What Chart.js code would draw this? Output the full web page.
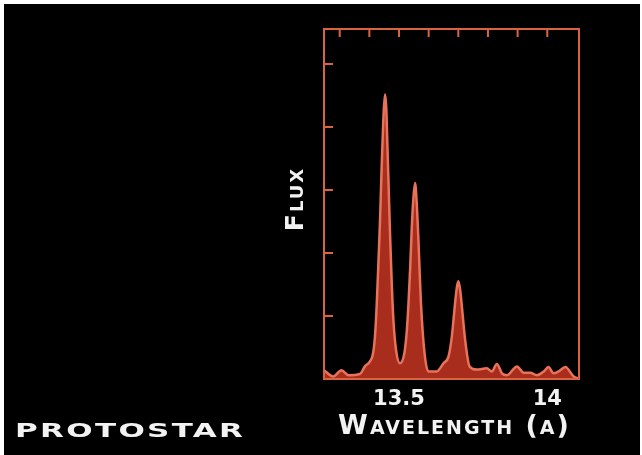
<!DOCTYPE html>
<html lang="en">
<head>
<meta charset="UTF-8">
<title>Protostar spectrum</title>
<script src="https://cdn.jsdelivr.net/npm/chart.js"></script>
<style>
  body { margin: 0; background: #fff; }
  #wrap { position: absolute; left: 4px; top: 4px; width: 636px; height: 451px; background: #000; }
</style>
</head>
<body>
<div id="wrap"><canvas id="spectrum" width="636" height="451"></canvas></div>
<script>
  // spectrum: wavelength in angstrom, flux in tick units
  var wavelength = [13.247, 13.278, 13.306, 13.329, 13.368, 13.385, 13.402, 13.413, 13.420, 13.425,
    13.431, 13.436, 13.441, 13.445, 13.449, 13.453, 13.457, 13.460, 13.465, 13.470,
    13.476, 13.481, 13.490, 13.503, 13.518, 13.526, 13.532, 13.538, 13.543, 13.549,
    13.554, 13.559, 13.565, 13.570, 13.574, 13.586, 13.599, 13.627, 13.650, 13.667,
    13.678, 13.684, 13.689, 13.695, 13.700, 13.706, 13.712, 13.723, 13.738, 13.762,
    13.796, 13.813, 13.830, 13.847, 13.864, 13.898, 13.920, 13.943, 13.965, 13.988,
    14.004, 14.021, 14.038, 14.061, 14.089, 14.107];
  var flux = [0.14, 0.04, 0.14, 0.06, 0.08, 0.20, 0.28, 0.42, 0.75, 1.20,
    1.90, 2.52, 3.30, 3.85, 4.30, 4.52, 4.30, 3.85, 3.05, 2.26,
    1.45, 0.94, 0.46, 0.25, 0.41, 0.75, 1.20, 1.80, 2.40, 2.90,
    3.11, 2.85, 2.26, 1.65, 1.20, 0.41, 0.12, 0.12, 0.25, 0.36,
    0.67, 0.95, 1.20, 1.45, 1.55, 1.42, 1.15, 0.62, 0.20, 0.15,
    0.17, 0.12, 0.24, 0.09, 0.06, 0.20, 0.10, 0.10, 0.06, 0.12,
    0.19, 0.09, 0.12, 0.19, 0.04, 0.0];
  var xLabels = [13.5, 14];
  var topTicks = [13.3, 13.4, 13.5, 13.6, 13.7, 13.8, 13.9, 14.0];
  var yTicks = [1, 2, 3, 4, 5];

  var boxColor = "#d9643f";
  var textColor = "#f2f2f2";
  var font = "'DejaVu Sans'";

  var points = wavelength.map((w, i) => ({ x: w, y: flux[i] }));

  // draws text where some letters are bigger (fake small caps)
  function partsWidth(ctx, parts) {
    var w = 0;
    parts.forEach(p => {
      ctx.font = "bold " + p[1] + "px " + font;
      w += ctx.measureText(p[0]).width;
    });
    return w;
  }
  function drawParts(ctx, parts, x, y) {
    parts.forEach(p => {
      ctx.font = "bold " + p[1] + "px " + font;
      ctx.fillText(p[0], x, y);
      x += ctx.measureText(p[0]).width;
    });
  }

  var frame = {
    id: "frame",
    afterDatasetsDraw(chart) {
      var ctx = chart.ctx, a = chart.chartArea;
      var sx = chart.scales.x, sy = chart.scales.y;
      ctx.save();
      ctx.strokeStyle = boxColor;
      ctx.lineWidth = 2;
      ctx.strokeRect(a.left, a.top, a.right - a.left, a.bottom - a.top);
      ctx.beginPath();
      topTicks.forEach(v => {
        var px = sx.getPixelForValue(v);
        ctx.moveTo(px, a.top);
        ctx.lineTo(px, a.top + 8);
      });
      yTicks.forEach(v => {
        var py = sy.getPixelForValue(v);
        ctx.moveTo(a.left, py);
        ctx.lineTo(a.left + 9, py);
      });
      ctx.stroke();

      ctx.fillStyle = textColor;
      ctx.textBaseline = "alphabetic";
      ctx.letterSpacing = "2px";

      var xt = [["W", 27], ["AVELENGTH", 19], [" (", 27], ["A", 19], [")", 27]];
      var cx = (a.left + a.right) / 2 + 3;
      drawParts(ctx, xt, cx - partsWidth(ctx, xt) / 2, a.bottom + 55);

      var yt = [["F", 25], ["LUX", 18]];
      ctx.save();
      ctx.translate(a.left - 21, (a.top + a.bottom) / 2 - 5);
      ctx.rotate(-Math.PI / 2);
      drawParts(ctx, yt, -partsWidth(ctx, yt) / 2, 0);
      ctx.restore();

      ctx.save();
      ctx.letterSpacing = "1.5px";
      ctx.translate(11, 433);
      ctx.scale(1.55, 1);
      ctx.font = "bold 20px " + font;
      ctx.fillText("PROTOSTAR", 0, 0);
      ctx.restore();

      ctx.restore();
    }
  };

  new Chart("spectrum", {
    type: "line",
    data: {
      datasets: [{
        data: points,
        borderColor: "#e8735a",
        backgroundColor: "#a82d1c",
        borderWidth: 2.5,
        fill: "origin",
        pointRadius: 0,
        cubicInterpolationMode: "monotone"
      }]
    },
    options: {
      responsive: false,
      animation: false,
      layout: { padding: { top: 25, right: 61, left: 0, bottom: 0 } },
      plugins: { legend: { display: false }, tooltip: { enabled: false } },
      scales: {
        x: {
          type: "linear",
          min: 13.247,
          max: 14.107,
          grid: { display: false, drawTicks: false },
          border: { display: false },
          afterBuildTicks: scale => { scale.ticks = xLabels.map(v => ({ value: v })); },
          afterFit: scale => { scale.height = 76; },
          ticks: {
            color: textColor,
            padding: 8,
            font: { family: "DejaVu Sans", size: 21, weight: "bold" },
            callback: v => String(v)
          }
        },
        y: {
          min: 0,
          max: 5.556,
          grid: { display: false, drawTicks: false },
          border: { display: false },
          ticks: { display: false },
          afterFit: scale => { scale.width = 320; }
        }
      }
    },
    plugins: [frame]
  });
</script>
</body>
</html>
